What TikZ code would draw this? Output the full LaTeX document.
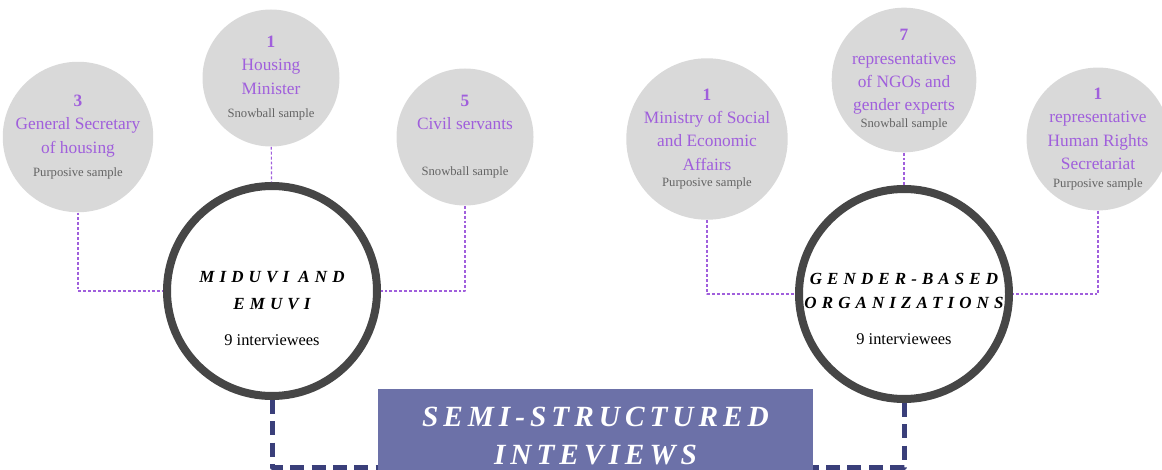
\documentclass[tikz,border=0pt]{standalone}
\usepackage{fontspec}
\setmainfont{Liberation Serif}
\definecolor{lila}{RGB}{160,95,220}
\definecolor{circgray}{RGB}{217,217,217}
\definecolor{smpgray}{RGB}{100,100,100}
\definecolor{ringgray}{RGB}{70,70,70}
\definecolor{boxblue}{RGB}{108,113,168}
\definecolor{navy}{RGB}{58,63,122}
\newcommand{\smp}{\fontsize{9.5}{11}\selectfont\color{smpgray}}
\newcommand{\ringfont}{\fontsize{12.75}{15}\selectfont\bfseries\itshape\addfontfeature{LetterSpace=30}}
\newcommand{\boxfont}{\fontsize{22}{26}\selectfont\bfseries\itshape\addfontfeature{LetterSpace=17}}

\begin{document}
\begin{tikzpicture}[x=0.75pt,y=-0.75pt,line join=round,
		small/.style={circle,fill=circgray,minimum size=102.75pt,inner sep=0pt,align=center,text=lila,font=\fontsize{13}{17.5}\selectfont},
		ring/.style={circle,draw=ringgray,line width=6pt,fill=white,minimum size=157.5pt,inner sep=0pt},
		ringtxt/.style={align=center,font=\fontsize{12.3}{15}\selectfont},
		lilaline/.style={draw=lila,line width=0.9pt,dash pattern=on 2.2pt off 1.5pt},
		navyline/.style={draw=navy,line width=3.75pt,dash pattern=on 10.5pt off 5.5pt},
		bluebox/.style={fill=boxblue,minimum width=326.25pt,minimum height=70.5pt,align=center,text=white,font=\boxfont}]
			\useasboundingbox (0,0) rectangle (1162,470);
			\node[small] (gen) at (78,137) {{\bfseries 3}\\General Secretary\\of housing\\{\smp Purposive sample}};
			\node[small] (hous) at (271,78) {{\bfseries 1}\\Housing\\Minister\\{\smp Snowball sample}};
			\node[small] (civ) at (465,137) {{\bfseries 5}\\Civil servants\\[17pt]{\smp Snowball sample}};
			\node[small] (mies) at (707,139) {{\bfseries 1}\\Ministry of Social\\and Economic\\Affairs\\[-5pt]{\smp Purposive sample}};
			\node[small] (ngo) at (904,80) {{\bfseries 7}\\representatives\\of NGOs and\\gender experts\\[-5pt]{\smp Snowball sample}};
			\node[small] (hum) at (1098,139) {{\bfseries 1}\\representative\\Human Rights\\Secretariat\\[-4pt]{\smp Purposive sample}};
			\node[ring] (miduvi) at (272,291) {};
			\node[ring] (gender) at (904,294) {};
			\node[ringtxt] (miduvitxt) at ([yshift=-13pt]miduvi) {{\ringfont MIDUVI AND}\\[5pt]{\ringfont EMUVI}\\[12pt]9 interviewees};
			\node[ringtxt] (gendertxt) at ([yshift=-11pt]gender) {{\ringfont GENDER-BASED}\\[3pt]{\ringfont ORGANIZATIONS}\\[12pt]9 interviewees};
			\node[bluebox] (semi) at (595.5,436) {SEMI-STRUCTURED\\[3pt]INTEVIEWS};
			\draw[lilaline] (gen) |- (miduvi);
			\draw[lilaline] (hous) -- (miduvi);
			\draw[lilaline] (civ) |- (miduvi);
			\draw[lilaline] (mies) |- (gender);
			\draw[lilaline] (ngo) -- (gender);
			\draw[lilaline] (hum) |- (gender);
			\draw[navyline] (miduvi.south) |- ([yshift=-23.25pt]semi.west);
			\draw[navyline] (gender.south) |- ([yshift=-23.25pt]semi.east);
		\end{tikzpicture}
\end{document}
